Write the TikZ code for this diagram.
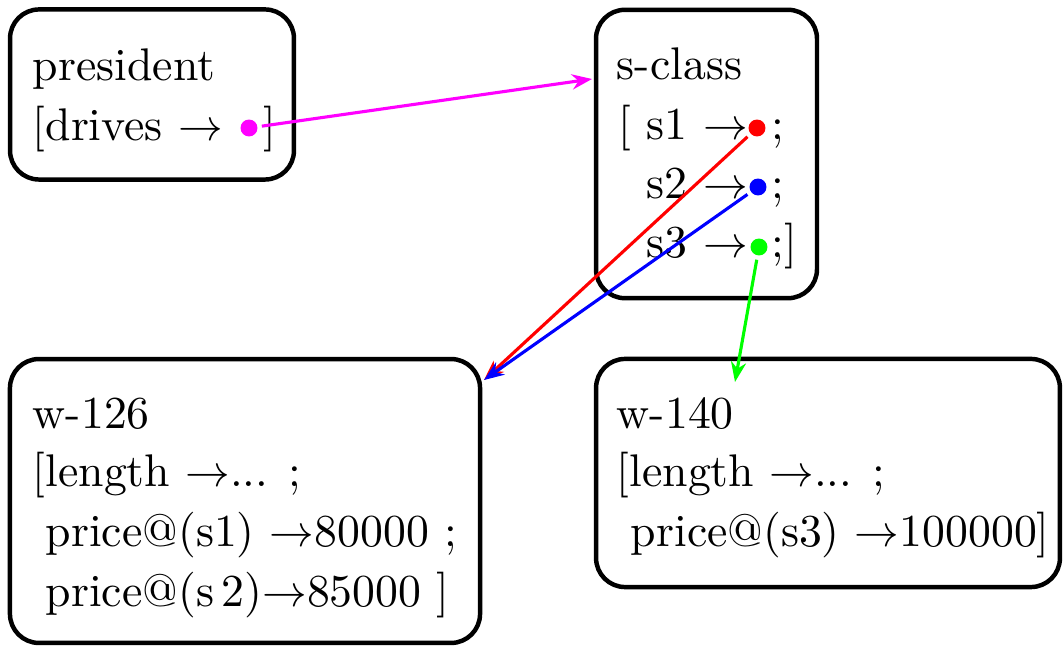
\documentclass[tikz,border=0pt]{standalone}
\usetikzlibrary{arrows.meta}
\definecolor{linkmagenta}{RGB}{255,0,255}
\begin{document}
\begin{tikzpicture}[x=0.224pt, y=-0.224pt,
  font=\fontsize{10.25}{12.3}\selectfont,
  box/.style={draw, line width=1pt, rounded corners=6.5pt, inner sep=0pt},
  txt/.style={anchor=base west, inner sep=0pt},
  dot/.style={circle, inner sep=0pt, minimum size=3.8pt, outer sep=1pt},
  link/.style={line width=0.7pt, -{Stealth[length=4.5pt, width=3.4pt]}}]
\useasboundingbox (0,0) rectangle (1063,646);

% Draw boxes
\node[box, minimum width=63.6pt, minimum height=38.1pt] (president) at (152,94.5) {};
\node[box, minimum width=49.5pt, minimum height=64.6pt] (sclass) at (706.5,154) {};
\node[box, minimum width=105.3pt, minimum height=63.6pt] (w126) at (245,501) {};
\node[box, minimum width=103.9pt, minimum height=51.1pt] (w140) at (828,473) {};

% Texts of president and s-class
\node[txt] (p0) at (32,81) {president};
\node[txt] (p1) at (32,141) {[drives $\rightarrow$\hspace{9pt}]};
\node[txt] (s0) at (616,80) {s-class};
\node[txt] (s1) at (618,140) {[ s1 $\rightarrow$\hspace{5.3pt};};
\node[txt] (s2) at (646,199) {s2 $\rightarrow$\hspace{5.3pt};};
\node[txt] (s3) at (646,258) {s3 $\rightarrow$\hspace{5.3pt};]};

% Texts of the two w boxes
\node[txt] (a0) at (32,429) {w-126};
\node[txt] (a1) at (32,487) {[length $\rightarrow$... ;};
\node[txt] (a2) at (45,547) {price@(s1) $\rightarrow$80000 ;};
\node[txt] (a3) at (45,607) {price@(s\,2)$\rightarrow$85000 ]};
\node[txt] (b0) at (616,429) {w-140};
\node[txt] (b1) at (616,487) {[length $\rightarrow$... ;};
\node[txt] (b2) at (630,547) {price@(s3) $\rightarrow$100000]};

% Draw dots
\node[dot, fill=linkmagenta] (md) at (249,128) {};
\node[dot, fill=red] (rd) at (757,128) {};
\node[dot, fill=blue] (bd) at (758,187) {};
\node[dot, fill=green] (gd) at (759,247) {};

% Arrow ends
\coordinate (sin) at (592,79);
\coordinate (ain) at (484,380);
\coordinate (bin) at (735,382);

% Connect dots to boxes
\draw[link, linkmagenta] (md) -- (sin);
\draw[link, red] (rd) -- (ain);
\draw[link, blue] (bd) -- (ain);
\draw[link, green] (gd) -- (bin);

\end{tikzpicture}
\end{document}
